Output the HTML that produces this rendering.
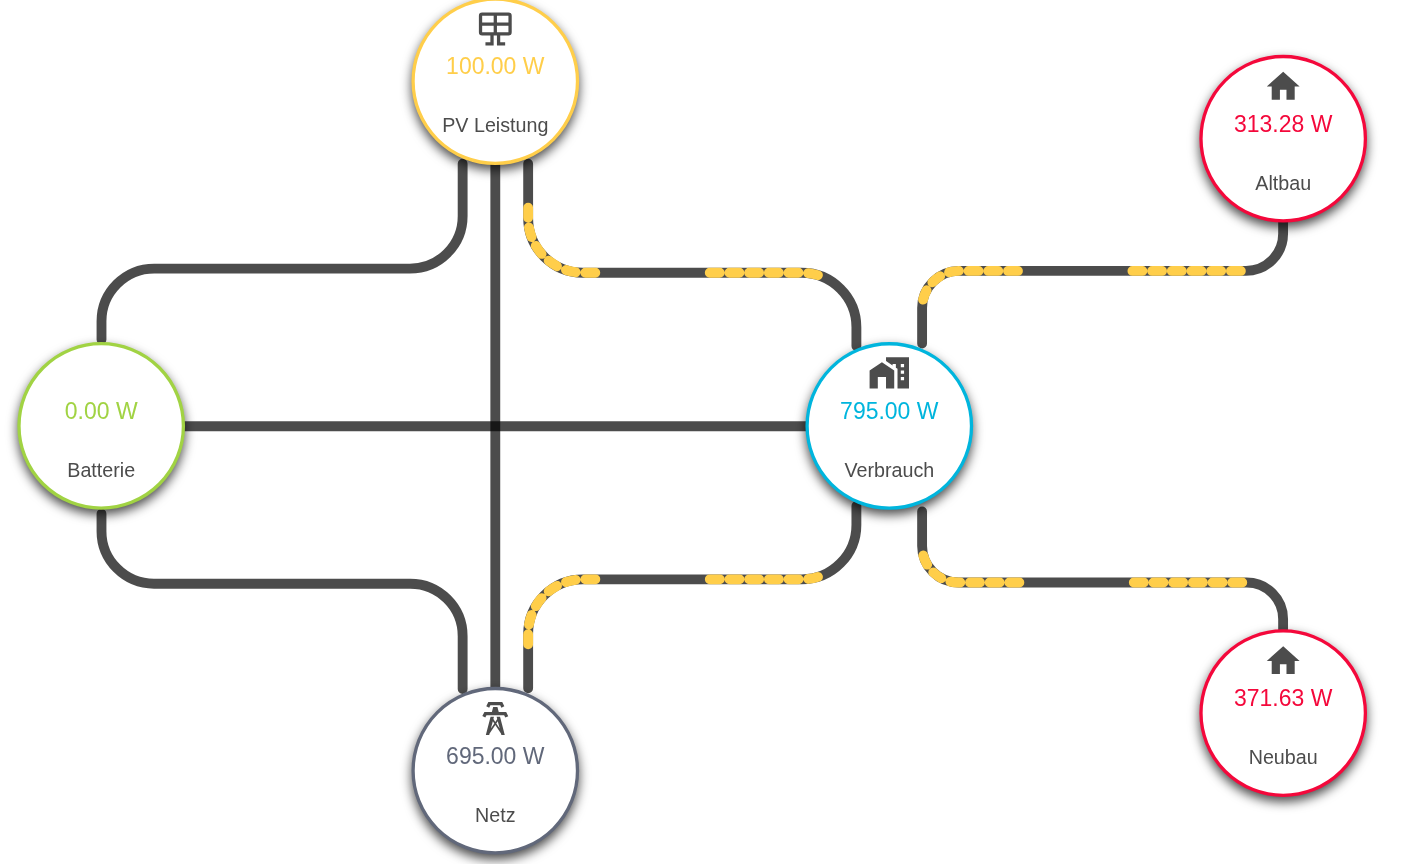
<!DOCTYPE html>
<html lang="de">
<head>
<meta charset="utf-8">
<title>Energiefluss</title>
<style>
html,body{margin:0;padding:0;background:#fff;overflow:hidden}
body{width:1412px;height:864px;font-family:"Liberation Sans",Arial,Helvetica,sans-serif}
svg{display:block;position:absolute;left:0;top:0;will-change:transform}
.ln{fill:none;stroke:rgba(0,0,0,.7);stroke-width:9.85;stroke-linecap:round}
.an{fill:none;stroke:#ffce4a;stroke-width:9.85;stroke-linecap:round}
.c{fill:#fff;stroke-width:3.3;filter:drop-shadow(0px 5px 5.5px rgba(0,0,0,.7))}
.v{font-size:22.99px;text-anchor:middle}
.l{font-size:19.7px;text-anchor:middle;fill:#4c4c4c}
.i{fill:#4c4c4c}
</style>
</head>
<body>
<svg width="1412" height="864" viewBox="0 0 1412 864">

<g>
<path class="ln" d="M462.65,163.70 V215.90 A52.70,52.70 0 0 1 409.95,268.60 H154.20 A52.70,52.70 0 0 0 101.50,321.30 V339.40"/>
<path class="ln" d="M495.3,160 V692"/>
<path class="ln" d="M528.15,163.70 V218.03 A54.67,54.67 0 0 0 582.82,272.70 H801.73 A54.67,54.67 0 0 1 856.40,327.37 V345.90"/>
<path class="ln" d="M183,426.25 H808"/>
<path class="ln" d="M462.65,689.00 V636.20 A52.50,52.50 0 0 0 410.15,583.70 H154.00 A52.50,52.50 0 0 1 101.50,531.20 V513.80"/>
<path class="ln" d="M528.15,688.30 V634.02 A54.67,54.67 0 0 1 582.82,579.35 H801.73 A54.67,54.67 0 0 0 856.40,524.68 V506.10"/>
<path class="ln" d="M922.10,343.60 V308.00 A37.10,37.10 0 0 1 959.20,270.90 H1246.00 A37.10,37.10 0 0 0 1283.10,233.80 V222.10"/>
<path class="ln" d="M922.10,511.50 V546.10 A36.40,36.40 0 0 0 958.50,582.50 H1246.70 A36.40,36.40 0 0 1 1283.10,618.90 V629.30"/>
</g>
<g>
<path class="an" d="M528.15,163.70 V218.03 A54.67,54.67 0 0 0 582.82,272.70 H801.73 A54.67,54.67 0 0 1 856.40,327.37 V345.90" stroke-dasharray="9.95 9.75 9.95 9.75 9.95 9.75 9.95 9.75 9.95 9.75 9.95 114.45" stroke-dashoffset="-44.1"/>
<path class="an" d="M528.15,688.30 V634.02 A54.67,54.67 0 0 1 582.82,579.35 H801.73 A54.67,54.67 0 0 0 856.40,524.68 V506.10" stroke-dasharray="9.95 9.75 9.95 9.75 9.95 9.75 9.95 9.75 9.95 9.75 9.95 114.45" stroke-dashoffset="-44.1"/>
<path class="an" d="M922.10,343.60 V308.00 A37.10,37.10 0 0 1 959.20,270.90 H1246.00 A37.10,37.10 0 0 0 1283.10,233.80 V222.10" stroke-dasharray="9.95 9.75 9.95 9.75 9.95 9.75 9.95 9.75 9.95 9.75 9.95 114.45" stroke-dashoffset="-44.1"/>
<path class="an" d="M922.10,511.50 V546.10 A36.40,36.40 0 0 0 958.50,582.50 H1246.70 A36.40,36.40 0 0 1 1283.10,618.90 V629.30" stroke-dasharray="9.95 9.75 9.95 9.75 9.95 9.75 9.95 9.75 9.95 9.75 9.95 114.45" stroke-dashoffset="-44.1"/>
</g>
<g id="bat">
<circle class="c" cx="101.2" cy="425.9" r="82.2" stroke="#a1d343"/>
<text class="v" x="101.2" y="418.9" fill="#a1d343">0.00 W</text>
<text class="l" x="101.2" y="476.7">Batterie</text>
</g>
<g id="pv">
<circle class="c" cx="495.3" cy="81.2" r="82.2" stroke="#ffce4a"/>
<g class="i" transform="translate(475.60,9.30) scale(1.6417)"><path fill-rule="evenodd" d="M4,2H20A2,2 0 0,1 22,4V14A2,2 0 0,1 20,16H15V20H18V22H13V16H11V22H6V20H9V16H4A2,2 0 0,1 2,14V4A2,2 0 0,1 4,2M4,4V8H11V4H4M4,10V14H11V10H4M20,14V10H13V14H20M20,8V4H13V8H20Z"/></g>
<text class="v" x="495.3" y="74.2" fill="#ffce4a">100.00 W</text>
<text class="l" x="495.3" y="132.0">PV Leistung</text>
</g>
<g id="net">
<circle class="c" cx="495.3" cy="770.7" r="82.2" stroke="#61687a"/>
<g class="i" transform="translate(475.60,698.80) scale(1.6417)"><path d="M8.28,5.45L6.5,4.55L7.76,2H16.23L17.5,4.55L15.72,5.44L15,4H9L8.28,5.45M18.62,8H14.09L13.3,5H10.7L9.91,8H5.38L4.1,10.55L5.89,11.44L6.62,10H17.38L18.1,11.45L19.89,10.56L18.62,8M17.77,22H15.7L15.46,21.1L12,15.9L8.53,21.1L8.3,22H6.23L9.12,11H11.19L10.83,12.35L12,14.1L13.16,12.35L12.81,11H14.88L17.77,22M11.4,15L10.5,13.65L9.32,18.13L11.4,15M14.68,18.12L13.5,13.64L12.6,15L14.68,18.12Z"/></g>
<text class="v" x="495.3" y="763.7" fill="#61687a">695.00 W</text>
<text class="l" x="495.3" y="821.5">Netz</text>
</g>
<g id="use">
<circle class="c" cx="889.3" cy="425.95" r="82.2" stroke="#00b5dd"/>
<g class="i" transform="translate(869.60,354.05) scale(1.6417)"><path d="M0,21V10L7.5,5L15,10V21H10V14H5V21H0M24,2V21H17V8.93L16,8.27V6H14V6.93L10,4.27V2H24M21,14H19V16H21V14M21,10H19V12H21V10M21,6H19V8H21V6Z"/></g>
<text class="v" x="889.3" y="418.95" fill="#00b5dd">795.00 W</text>
<text class="l" x="889.3" y="476.75">Verbrauch</text>
</g>
<g id="alt">
<circle class="c" cx="1283.2" cy="138.7" r="82.2" stroke="#f4083b"/>
<g class="i" transform="translate(1263.50,66.80) scale(1.6417)"><path d="M10,20V14H14V20H19V12H22L12,3L2,12H5V20H10Z"/></g>
<text class="v" x="1283.2" y="131.7" fill="#f4083b">313.28 W</text>
<text class="l" x="1283.2" y="189.5">Altbau</text>
</g>
<g id="neu">
<circle class="c" cx="1283.2" cy="713.1" r="82.2" stroke="#f4083b"/>
<g class="i" transform="translate(1263.50,641.20) scale(1.6417)"><path d="M10,20V14H14V20H19V12H22L12,3L2,12H5V20H10Z"/></g>
<text class="v" x="1283.2" y="706.1" fill="#f4083b">371.63 W</text>
<text class="l" x="1283.2" y="763.9">Neubau</text>
</g>
</svg>
</body>
</html>
